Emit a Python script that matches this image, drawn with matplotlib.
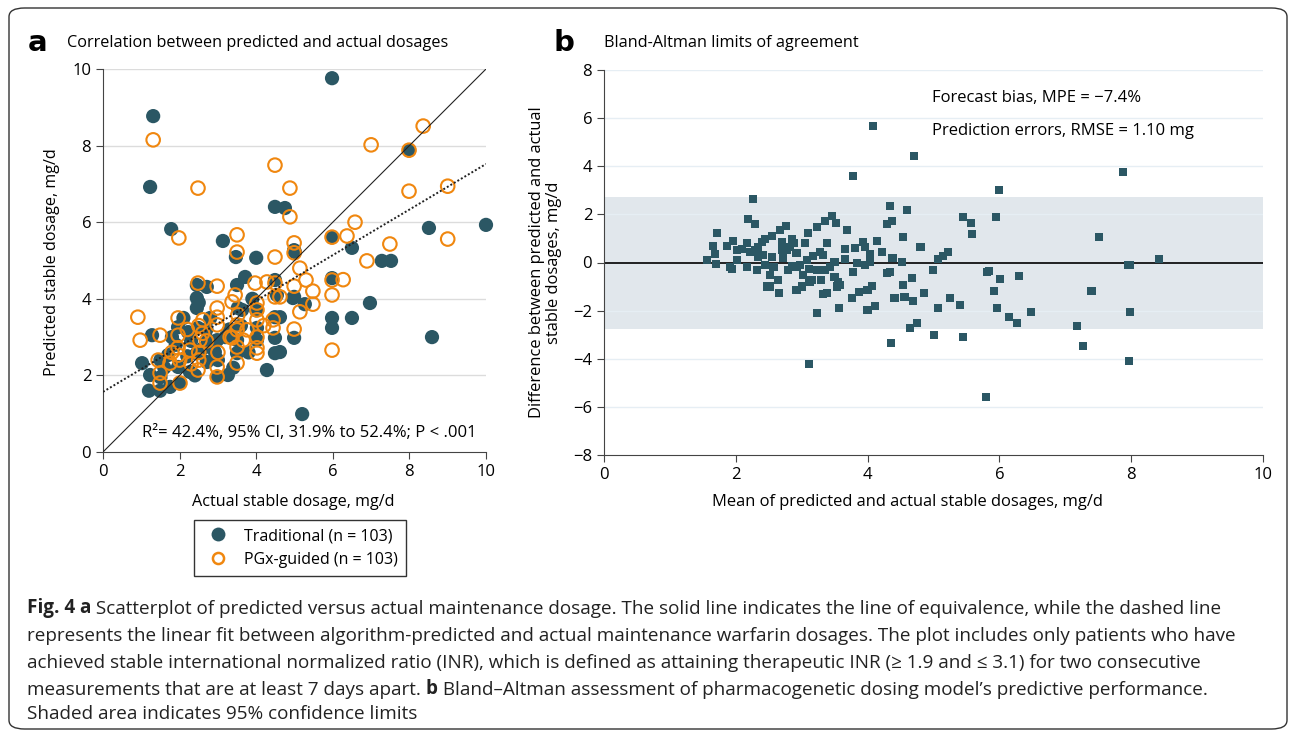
import matplotlib
matplotlib.use('agg')
import matplotlib.pyplot as plt
from matplotlib import font_manager
from matplotlib.patches import FancyBboxPatch
from matplotlib.lines import Line2D

# ---- data -------------------------------------------------------------
trad_x = [1.31, 1.23, 1.78, 5.98, 3.13, 4.49, 4.75, 3.47, 4.0, 7.99, 8.51, 10.0, 5.98, 6.5, 7.28,
          7.52, 5.98, 4.99, 4.99, 5.27, 6.97, 5.98, 5.98, 6.5, 4.99, 8.59, 5.2, 4.62, 4.62, 2.45,
          2.71, 3.5, 3.71, 2.45, 2.45, 3.52, 4.49, 1.28, 1.96, 2.22, 2.48, 2.74, 1.02, 1.7, 1.96,
          1.23, 1.49, 1.75, 2.27, 2.45, 2.71, 2.98, 3.26, 3.5, 4.02, 4.02, 4.28, 4.49, 4.49, 3.5,
          2.92, 2.98, 4.49, 5.01, 4.96, 4.54, 3.63, 3.2, 1.5, 1.9, 2.2, 2.0, 1.5, 2.6, 3.0,
          3.4, 3.6, 2.8, 3.9, 2.1, 1.8, 2.3, 2.4, 1.2, 3.3, 2.5, 4.0, 3.8, 2.7, 1.6]
trad_y = [8.77, 6.92, 5.82, 9.76, 5.51, 6.40, 6.37, 5.09, 5.07, 7.88, 5.85, 5.93, 5.61, 5.33, 4.99,
          4.99, 4.54, 5.27, 4.05, 3.86, 3.89, 3.5, 3.24, 3.5, 2.98, 3.0, 0.99, 3.52, 2.61, 4.36,
          4.31, 4.36, 4.57, 4.02, 3.76, 3.76, 3.52, 3.05, 3.26, 3.13, 3.24, 2.92, 2.32, 2.53, 2.22,
          2.01, 1.6, 1.7, 2.09, 2.58, 2.35, 1.96, 2.01, 2.58, 2.92, 3.24, 2.14, 2.58, 2.98, 2.92,
          2.61, 2.92, 4.49, 5.22, 4.02, 4.1, 3.71, 3.0, 1.95, 2.8, 2.5, 1.8, 2.4, 2.7, 2.4,
          2.2, 3.3, 3.5, 4.0, 3.5, 3.0, 2.9, 2.0, 1.6, 3.2, 3.9, 3.7, 2.6, 3.2, 2.2]

pgx_x = [1.31, 2.48, 1.98, 4.49, 3.5, 3.5, 4.49, 4.88, 4.88, 8.36, 7.0, 7.99, 7.99, 9.0, 6.58,
         6.37, 5.98, 7.49, 9.0, 4.99, 4.99, 6.89, 5.14, 5.3, 5.98, 6.27, 4.99, 5.48, 4.62, 5.98,
         5.48, 5.14, 4.99, 5.98, 0.91, 0.97, 1.49, 1.44, 1.49, 1.49, 1.75, 2.01, 1.96, 1.96, 1.96,
         1.96, 2.27, 2.48, 2.98, 2.61, 2.53, 2.48, 2.98, 2.98, 2.98, 2.98, 2.98, 3.45, 3.37, 3.52,
         3.5, 3.5, 3.32, 3.5, 3.5, 3.66, 3.97, 4.28, 4.49, 4.02, 4.02, 4.02, 4.02, 4.44, 4.44,
         4.49, 4.02, 4.02, 3.76, 3.37, 2.2, 2.5, 2.5, 2.0, 2.3, 2.6, 1.8, 2.7, 4.2, 2.5, 3.0]
pgx_y = [8.15, 6.89, 5.59, 7.49, 5.67, 5.22, 5.09, 6.89, 6.14, 8.51, 8.02, 7.88, 6.81, 6.94, 6.0,
         5.64, 5.61, 5.43, 5.56, 5.46, 5.2, 4.99, 4.8, 4.49, 4.49, 4.5, 4.33, 4.2, 4.05, 4.1,
         3.86, 3.66, 3.21, 2.66, 3.52, 2.92, 3.05, 2.4, 2.06, 1.8, 2.32, 1.8, 3.5, 3.05, 2.72,
         2.53, 2.66, 4.41, 4.33, 3.45, 2.92, 2.14, 3.76, 3.52, 3.32, 2.22, 1.96, 4.1, 3.92, 3.58,
         3.32, 3.19, 3.0, 2.74, 2.32, 2.92, 4.41, 4.44, 4.41, 3.89, 3.71, 3.45, 3.0, 3.45, 3.24,
         4.05, 2.72, 2.58, 3.19, 2.98, 3.2, 2.6, 2.4, 2.4, 2.3, 3.1, 2.6, 2.9, 3.3, 3.3, 2.6]

fit_intercept = 1.57
fit_slope = 0.595

ba_mean = [1.56, 1.65, 1.68, 1.7, 1.71, 1.87, 1.96, 1.91, 1.94, 2.02, 2.09, 2.02, 2.17, 2.19, 2.29,
           2.26, 2.17, 2.22, 2.29, 2.34, 2.4, 2.44, 2.32, 2.34, 2.41, 2.44, 2.55, 2.55, 2.57, 2.52,
           2.52, 2.47, 2.64, 2.66, 2.67, 2.76, 2.7, 2.7, 2.72, 2.78, 2.82, 2.85, 2.88, 2.92, 2.79,
           2.85, 2.92, 2.97, 2.92, 3.0, 3.02, 3.05, 3.1, 3.08, 3.11, 3.12, 3.15, 3.23, 3.17, 3.23,
           3.28, 3.29, 3.23, 3.35, 3.32, 3.38, 3.35, 3.32, 3.38, 3.43, 3.46, 3.52, 3.5, 3.5, 3.55,
           3.58, 3.54, 3.57, 3.66, 3.66, 3.69, 3.78, 3.76, 3.81, 3.84, 3.87, 3.93, 3.96, 3.96, 4.0,
           4.0, 4.04, 4.04, 4.07, 4.11, 4.14, 4.22, 4.29, 4.34, 4.29, 4.34, 4.37, 4.38, 4.41, 4.36,
           4.54, 4.52, 4.54, 4.56, 4.6, 4.67, 4.69, 4.64, 4.75, 4.8, 3.11, 3.78, 4.08, 4.7, 7.88,
           5.99, 5.45, 5.95, 5.57, 5.58, 4.81, 7.51, 5.22, 5.14, 5.07, 8.42, 7.95, 7.98, 4.99, 5.81,
           5.84, 6.01, 6.3, 5.92, 7.4, 4.86, 5.25, 5.07, 5.4, 5.96, 6.48, 7.98, 6.15, 6.27, 7.18,
           5.01, 5.45, 7.27, 7.97, 5.8]
ba_diff = [0.1, 0.69, 0.35, -0.06, 1.23, 0.69, 0.89, -0.19, -0.27, 0.52, 0.56, 0.1, -0.19, 1.81, 1.6,
           2.64, 0.81, 0.44, 0.52, 0.65, 0.85, 0.98, -0.31, 0.23, 0.31, -0.1, 1.1, 0.23, -0.19, -0.52,
           -1.0, -1.0, -0.73, -1.27, 1.35, 1.52, 0.85, 0.52, 0.19, 0.52, 0.65, 0.98, 0.81, 0.39, -0.31,
           -0.15, -0.19, -0.1, -1.14, -1.0, -0.52, 0.81, 1.23, 0.1, -0.27, -0.81, -0.73, 1.48, 0.27, -0.31,
           0.44, -0.73, -2.1, 1.73, 0.31, 0.81, -0.31, -1.31, -1.27, -0.19, 1.93, 1.64, 0.02, -0.6, -0.81,
           -0.94, -1.0, -1.89, 0.56, 0.14, 1.35, -0.4, -1.48, 0.6, -0.02, -1.23, 0.85, 0.65, -0.1, -1.14,
           -1.98, 0.35, 0.02, -0.98, -1.81, 0.89, 0.44, 1.6, 2.35, -0.44, -0.4, 1.73, 0.19, -1.48, -3.34,
           1.06, 0.02, -0.94, -1.43, 2.18, -0.65, -1.6, -2.72, -2.51, 0.65, -4.23, 3.6, 5.67, 4.42, 3.75,
           3.0, 1.89, 1.89, 1.64, 1.18, 0.64, 1.06, 0.44, 0.27, 0.15, 0.15, -0.1, -0.1, -0.31, -0.39,
           -0.35, -0.69, -0.56, -1.18, -1.18, -1.27, -1.48, -1.89, -1.77, -1.89, -2.06, -2.06, -2.27, -2.51, -2.64,
           -3.01, -3.1, -3.47, -4.09, -5.58]

bias = -0.03
loa_upper = 2.72
loa_lower = -2.78

caption_lines = [
    [("Fig. 4 a", True), (" Scatterplot of predicted versus actual maintenance dosage. The solid line indicates the line of equivalence, while the dashed line", False)],
    [("represents the linear fit between algorithm-predicted and actual maintenance warfarin dosages. The plot includes only patients who have", False)],
    [("achieved stable international normalized ratio (INR), which is defined as attaining therapeutic INR (\u2265 1.9 and \u2264 3.1) for two consecutive", False)],
    [("measurements that are at least 7 days apart. ", False), ("b", True), (" Bland\u2013Altman assessment of pharmacogenetic dosing model\u2019s predictive performance.", False)],
    [("Shaded area indicates 95% confidence limits", False)],
]

# ---- style ------------------------------------------------------------
teal = '#2b5764'
orange = '#f0870f'
plt.rcParams['font.family'] = ['Open Sans', 'DejaVu Sans']
installed = {f.name for f in font_manager.fontManager.ttflist}
if 'Liberation Sans Narrow' in installed:
    cap_font = ['Liberation Sans Narrow', 'DejaVu Sans']
    cap_size = 15
else:
    cap_font = ['Open Sans', 'DejaVu Sans']
    cap_size = 13.6

W, H = 1293, 732
fig = plt.figure(figsize=(W / 100, H / 100), dpi=100)

# frame around the whole figure
frame = FancyBboxPatch((9 / W, 3 / H), 1278 / W, 721 / H,
                       boxstyle='round,pad=0,rounding_size=0.012',
                       transform=fig.transFigure, fill=False, edgecolor='#333333', lw=1.0)
fig.patches.append(frame)

# ---- panel a ----------------------------------------------------------
axA = fig.add_axes([103 / W, 1 - 452 / H, 383 / W, 383 / H])
axA.scatter(trad_x, trad_y, s=105, color=teal, edgecolor='none', zorder=3, clip_on=False)
axA.scatter(pgx_x, pgx_y, s=95, facecolor='none', edgecolor=orange, linewidth=1.5, zorder=4, clip_on=False)
axA.plot([0, 10], [0, 10], color='#222222', lw=0.8, zorder=5)
axA.plot([0, 10], [fit_intercept, fit_intercept + 10 * fit_slope], color='#222222', lw=1.4,
         linestyle=(0, (1, 1.1)), zorder=5)
axA.set_xlim(0, 10)
axA.set_ylim(0, 10)
axA.set_xticks(range(0, 11, 2))
axA.set_yticks(range(0, 11, 2))
for y in range(2, 11, 2):
    axA.axhline(y, color='#dcdcdc', lw=1.0, zorder=0)
for s in ['top', 'right']:
    axA.spines[s].set_visible(False)
for s in ['left', 'bottom']:
    axA.spines[s].set_color('#444444')
axA.tick_params(labelsize=12, length=5, color='#444444')
axA.set_xlabel('Actual stable dosage, mg/d', fontsize=11.6)
axA.set_ylabel('Predicted stable dosage, mg/d', fontsize=11.6)
axA.xaxis.set_label_coords(0.497, -0.11)
axA.yaxis.set_label_coords(-0.112, 0.497)
axA.text(9.75, 0.5, 'R\u00b2= 42.4%, 95% CI, 31.9% to 52.4%; P < .001', ha='right', va='center',
         fontsize=12)

handles = [Line2D([], [], marker='o', linestyle='none', markersize=10, color=teal, markeredgecolor='none'),
           Line2D([], [], marker='o', linestyle='none', markersize=8, markerfacecolor='none',
                  markeredgecolor=orange, markeredgewidth=1.8)]
leg = fig.legend(handles, ['Traditional (n = 103)', 'PGx-guided (n = 103)'],
                 loc='center', bbox_to_anchor=(300 / W, 1 - 548 / H), fontsize=11.5,
                 frameon=True, fancybox=False, edgecolor='black', handletextpad=0.6,
                 borderpad=0.5, labelspacing=0.5)
leg.get_frame().set_linewidth(1.0)

fig.text(28 / W, 1 - 43 / H, 'a', fontsize=21, fontweight='bold', va='center',
         family=['DejaVu Sans'])
fig.text(67 / W, 1 - 43 / H, 'Correlation between predicted and actual dosages', fontsize=11.7, va='center')

# ---- panel b ----------------------------------------------------------
axB = fig.add_axes([604 / W, 1 - 455 / H, 659 / W, 385 / H])
axB.axhspan(loa_lower, loa_upper, color='#e1e7ec', zorder=0, lw=0)
for y in range(-6, 9, 2):
    axB.axhline(y, color='#e6eef4', lw=1.0, zorder=0.5)
axB.axhline(bias, color='#111111', lw=1.3, zorder=2)
axB.scatter(ba_mean, ba_diff, s=36, marker='s', color=teal, edgecolor='none', zorder=3)
axB.set_xlim(0, 10)
axB.set_ylim(-8, 8)
axB.set_xticks(range(0, 11, 2))
axB.set_yticks(range(-8, 9, 2))
for s in ['top', 'right']:
    axB.spines[s].set_visible(False)
for s in ['left', 'bottom']:
    axB.spines[s].set_color('#444444')
axB.tick_params(labelsize=12, length=5, color='#444444')
axB.set_xlabel('Mean of predicted and actual stable dosages, mg/d', fontsize=11.9)
axB.set_ylabel('Difference between predicted and actual\nstable dosages, mg/d', fontsize=11.9,
               linespacing=1.1)
axB.xaxis.set_label_coords(0.461, -0.101)
axB.yaxis.set_label_coords(-0.064, 0.5)
axB.text(4.98, 6.84, 'Forecast bias, MPE = \u22127.4%', fontsize=12, va='center')
axB.text(4.98, 5.47, 'Prediction errors, RMSE = 1.10 mg', fontsize=12, va='center')

fig.text(553 / W, 1 - 43 / H, 'b', fontsize=21, fontweight='bold', va='center',
         family=['DejaVu Sans'])
fig.text(604 / W, 1 - 43 / H, 'Bland-Altman limits of agreement', fontsize=11.7, va='center')

# ---- caption ----------------------------------------------------------
line_y = [608, 636, 663, 690, 714]
for parts, yy in zip(caption_lines, line_y):
    prev = None
    for txt, bold in parts:
        kw = dict(fontsize=cap_size, family=cap_font, color='#222222',
                  fontweight='bold' if bold else 'normal')
        if prev is None:
            prev = fig.text(27 / W, 1 - yy / H, txt, va='center', **kw)
        else:
            # put the next piece right after the previous one on the same line
            prev = axA.annotate(txt, xy=(1, 0), xycoords=prev, va='bottom', ha='left',
                                annotation_clip=False, **kw)

fig.savefig('out.png', dpi=100)
